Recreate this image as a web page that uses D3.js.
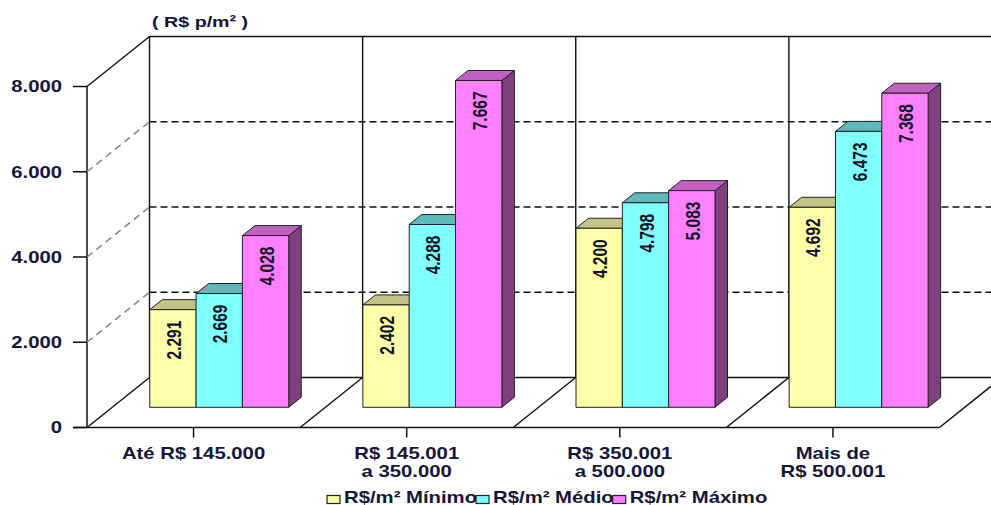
<!DOCTYPE html>
<html>
<head>
<meta charset="utf-8">
<script src="https://cdn.jsdelivr.net/npm/d3@7/dist/d3.min.js"></script>
<style>
  html, body { margin: 0; padding: 0; background: #fff; }
  svg { display: block; }
  text { font-family: "Liberation Sans", Arial, sans-serif; }
</style>
</head>
<body>
<svg id="chart" width="991" height="505"></svg>
<script>
// Price per m² by property value bracket
const categories = [
  ["Até R$ 145.000"],
  ["R$ 145.001", "a 350.000"],
  ["R$ 350.001", "a 500.000"],
  ["Mais de", "R$ 500.001"]
];
const seriesNames = ["R$/m² Mínimo", "R$/m² Médio", "R$/m² Máximo"];
const minimo = [2291, 2402, 4200, 4692];
const medio  = [2669, 4288, 4798, 6473];
const maximo = [4028, 7667, 5083, 7368];
const yTicks = [0, 2000, 4000, 6000, 8000];
const gridTicks = [2000, 4000, 6000];
const unitLabel = "( R$ p/m² )";

const series = [minimo, medio, maximo];
const fronts = ["#FFFFAA", "#80FFFF", "#FF80FF"];
const tops   = ["#C4C488", "#5CBABA", "#C060C0"];
const sides  = ["#9A9A60", "#3E8C8C", "#804080"];

const svg = d3.select("#chart");
const SX = 1.27;               // horizontal stretch of all text
const DX = 62.5, DY = 50;      // depth of the plot box
const ZF = 0.404, DZ = 0.2;    // bar front depth and bar thickness

const x = d3.scaleBand().domain(d3.range(categories.length)).range([87, 939.5]);
const xs = d3.scaleBand().domain(d3.range(series.length)).range([37.5, 37.5 + 139]);
const y = d3.scaleLinear().domain([0, 8000]).range([427.5, 86.5]);

const fmt = d3.formatLocale({ decimal: ",", thousands: ".", grouping: [3], currency: ["R$", ""] }).format(",d");

const x0 = x.range()[0], x1 = x.range()[1];
const line = (g, pts, opts) => {
  const p = g.append("path").attr("d", d3.line()(pts)).attr("fill", "none")
    .attr("stroke", opts.color || "#111").attr("stroke-width", opts.w || 1.4);
  if (opts.dash) p.attr("stroke-dasharray", opts.dash);
  return p;
};

const frame = svg.append("g");

// back wall
line(frame, [[x0 + DX, y(8000) - DY], [1000, y(8000) - DY]], { w: 1.5 });
gridTicks.forEach(v => line(frame, [[x0 + DX, y(v) - DY], [1000, y(v) - DY]], { w: 1.4, dash: "7,4" }));
line(frame, [[x0 + DX, y(0) - DY], [1000, y(0) - DY]], { w: 1.4 });
d3.range(categories.length + 1).forEach(i => {
  const xb = (i < categories.length ? x(i) : x1) + DX;
  line(frame, [[xb, y(8000) - DY], [xb, y(0) - DY]], { w: 1.4 });
});

// side wall
line(frame, [[x0, y(8000)], [x0, y(0)]], { w: 1.5 });
line(frame, [[x0, y(8000)], [x0 + DX, y(8000) - DY]], { w: 1.5 });
gridTicks.forEach(v => line(frame, [[x0, y(v)], [x0 + DX, y(v) - DY]], { w: 1.6, dash: "7,5", color: "#8a8a8a" }));

// floor
d3.range(categories.length + 1).forEach(i => {
  const xf = i < categories.length ? x(i) : x1;
  line(frame, [[xf, y(0)], [xf + DX, y(0) - DY]], { w: 1.5 });
});
line(frame, [[73, y(0)], [x1, y(0)]], { w: 1.6 });

// value axis ticks and labels
yTicks.forEach(v => {
  line(frame, [[73, y(v)], [x0, y(v)]], { w: 1.5 });
  frame.append("text")
    .attr("transform", `translate(62,${y(v)}) scale(${SX},1)`)
    .attr("text-anchor", "end").attr("dy", "0.36em")
    .attr("font-size", 16).attr("font-weight", "bold").attr("fill", "#16163a")
    .text(fmt(v));
});

// category ticks and labels
categories.forEach((lines, i) => {
  const cx = x(i) + x.bandwidth() / 2;
  line(frame, [[cx, y(0)], [cx, y(0) + 10]], { w: 1.5 });
  lines.forEach((t, k) => {
    frame.append("text")
      .attr("transform", `translate(${cx},${459 + k * 18}) scale(${SX},1)`)
      .attr("text-anchor", "middle")
      .attr("font-size", 16).attr("font-weight", "bold").attr("fill", "#16163a")
      .text(t);
  });
});

// unit label
svg.append("text")
  .attr("transform", `translate(152,27) scale(${SX},1)`)
  .attr("font-size", 15.5).attr("font-weight", "bold").attr("fill", "#16163a")
  .text(unitLabel);

// bars
const bars = svg.append("g").attr("stroke", "#222").attr("stroke-width", 1).attr("stroke-linejoin", "round");
const dx = DZ * DX, dy = DZ * DY;
categories.forEach((c, i) => {
  series.forEach((vals, s) => {
    const v = vals[i];
    const bx0 = x(i) + xs(s) + ZF * DX;
    const bx1 = bx0 + xs.bandwidth();
    const yb = y(0) - ZF * DY;
    const yt = y(v) - ZF * DY;
    bars.append("path").attr("fill", sides[s])
      .attr("d", d3.line()([[bx1, yt], [bx1 + dx, yt - dy], [bx1 + dx, yb - dy], [bx1, yb]]) + "Z");
    bars.append("path").attr("fill", tops[s])
      .attr("d", d3.line()([[bx0, yt], [bx1, yt], [bx1 + dx, yt - dy], [bx0 + dx, yt - dy]]) + "Z");
    bars.append("rect").attr("fill", fronts[s])
      .attr("x", bx0).attr("y", yt).attr("width", bx1 - bx0).attr("height", yb - yt);
    svg.append("text")
      .attr("transform", `translate(${(bx0 + bx1) / 2 + 1},${yt + 11}) scale(${SX},1) rotate(-90)`)
      .attr("text-anchor", "end").attr("dy", "0.36em")
      .attr("font-size", 15.5).attr("font-weight", "bold").attr("fill", "#141428")
      .text(fmt(v));
  });
});

// legend
const legend = svg.append("g");
let lx = 327;
seriesNames.forEach((name, s) => {
  legend.append("rect").attr("x", lx).attr("y", 495.5).attr("width", 13).attr("height", 8)
    .attr("fill", fronts[s]).attr("stroke", "#222").attr("stroke-width", 1.2);
  const t = legend.append("text")
    .attr("transform", `translate(${lx + 17},503) scale(${SX},1)`)
    .attr("font-size", 16).attr("font-weight", "bold").attr("fill", "#16163a")
    .text(name);
  lx += 17 + t.node().getComputedTextLength() * SX - 1;
});
</script>
</body>
</html>
